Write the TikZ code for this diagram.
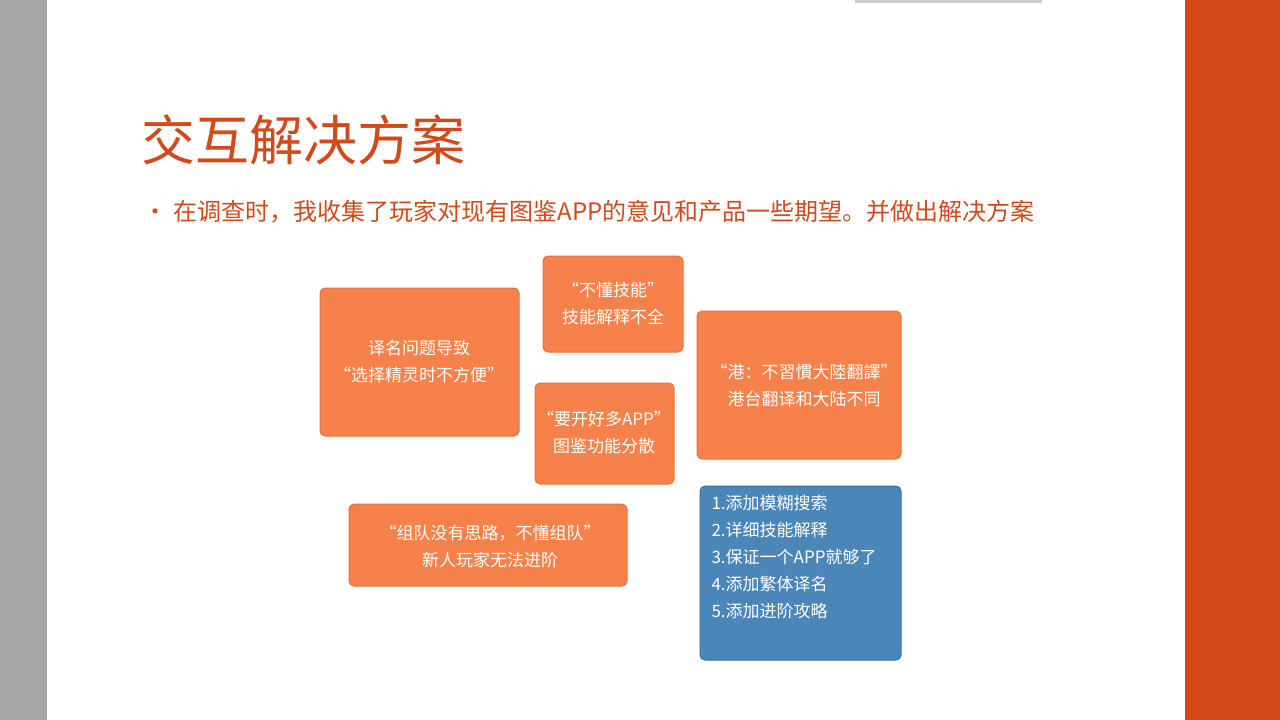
\documentclass[tikz,border=0pt]{standalone}
\usepackage{fontspec}
\newfontfamily\cjk{Noto Sans CJK SC}
\definecolor{ora}{HTML}{F7814A}
\definecolor{orab}{HTML}{E9703A}
\definecolor{blu}{HTML}{4A86B8}
\definecolor{blub}{HTML}{3B6FA0}
\definecolor{ttl}{HTML}{D24A1B}
\definecolor{bar}{HTML}{D34817}
\begin{document}
\begin{tikzpicture}[x=1pt,y=-1pt,
  obox/.style={draw=orab,line width=1pt,fill=ora,rounded corners=5pt},
  bbox/.style={draw=blub,line width=1pt,fill=blu,rounded corners=5pt},
  txt/.style={text=white,font=\cjk\fontsize{17}{21}\selectfont,align=center}]
\useasboundingbox (0,0) rectangle (1280,720);
\fill[white] (0,0) rectangle (1280,720);
\fill[gray!70!white] (0,0) rectangle (47,720);
\fill[bar] (1185,0) rectangle (1280,720);
\fill[gray!40] (855,0) rectangle (1042,3);
\node[anchor=west,text=ttl,font=\cjk\fontsize{54}{60}\selectfont] (title) at (138,140) {交互解决方案};
\node[anchor=west,text=ttl,font=\cjk\fontsize{24}{28}\selectfont] (bul) at (140,212) {•\hspace{6pt}在调查时，我收集了玩家对现有图鉴APP的意见和产品一些期望。并做出解决方案};
\draw[obox] (320,288) rectangle (519,436) coordinate (b1);
\node[txt] (t1) at (419,362) {译名问题导致\\[6pt]“选择精灵时不方便”};
\draw[obox] (543,256) rectangle (683,352);
\node[txt] (t2) at (613,304) {“不懂技能”\\[6pt]技能解释不全};
\draw[obox] (697,311) rectangle (901,459);
\node[txt] (t3) at (804,385) {“港：不習慣大陸翻譯”\\[6pt]港台翻译和大陆不同};
\draw[obox] (535,383) rectangle (674,484);
\node[txt] (t4) at (604,433) {“要开好多APP”\\[6pt]图鉴功能分散};
\draw[obox] (349,504) rectangle (627,586);
\node[txt] (t5) at (490,547) {“组队没有思路，不懂组队”\\[6pt]新人玩家无法进阶};
\draw[bbox] (700,486) rectangle (901,660);
\node[txt,align=left,anchor=north west] (t6) at (708,492) {1.添加模糊搜索\\[6pt]2.详细技能解释\\[6pt]3.保证一个APP就够了\\[6pt]4.添加繁体译名\\[6pt]5.添加进阶攻略};
\end{tikzpicture}
\end{document}
